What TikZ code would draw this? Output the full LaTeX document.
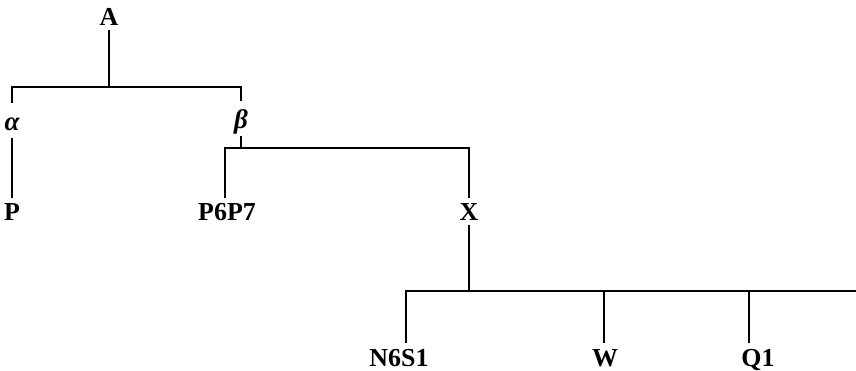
\documentclass[tikz,border=0pt]{standalone}
\usepackage{fontspec}
\setmainfont{Liberation Serif}
\begin{document}
\begin{tikzpicture}[x=1bp,y=-1bp,line width=1.6bp,
  lab/.style={font=\bfseries\fontsize{26}{30}\selectfont,anchor=base,inner sep=4.5bp,text height=17bp,text depth=0bp},
  low/.style={lab,inner sep=1.5bp},
  gr/.style={font=\bfseries\itshape\fontsize{27}{30}\selectfont,anchor=base,inner sep=3bp,text height=23bp,text depth=4bp}]
\useasboundingbox (0,0) rectangle (856,370);
% nodes
\node[lab] (A) at (109,25) {A};
\node[gr] (al) at (12,130) {α};
\node[gr] (be) at (241,128) {β};
\node[lab] (P) at (12,220) {P};
\node[lab] (PP) at (227,220) {P6P7};
\node[lab] (X) at (469,220) {X};
\node[low] (N) at (399,366) {N6S1};
\node[low] (W) at (605,366) {W};
\node[low] (Q) at (758,366) {Q1};
% junction coordinates
\coordinate (b1) at (0,87);
\coordinate (b2) at (0,148);
\coordinate (jpp) at (225,148);
\coordinate (b3) at (0,291);
\coordinate (jn) at (406,291);
\coordinate (jw) at (604,291);
\coordinate (jq) at (749,291);
\coordinate (jend) at (856,291);
% connectors
\draw (A.south) -- (A.south |- b1);
\draw (al.north) -- (al.north |- b1) -- (be.north |- b1) -- (be.north);
\draw (al.south) -- (P.north);
\draw (be.south) -- (be.south |- b2);
\draw (jpp |- PP.north) -- (jpp) -- (X.north |- b2) -- (X.north);
\draw (X.south) -- (X.south |- b3);
\draw (jn) ++(0,52) -- (jn) -- (jend);
\draw (jw) -- ++(0,52);
\draw (jq) -- ++(0,52);
\end{tikzpicture}
\end{document}
